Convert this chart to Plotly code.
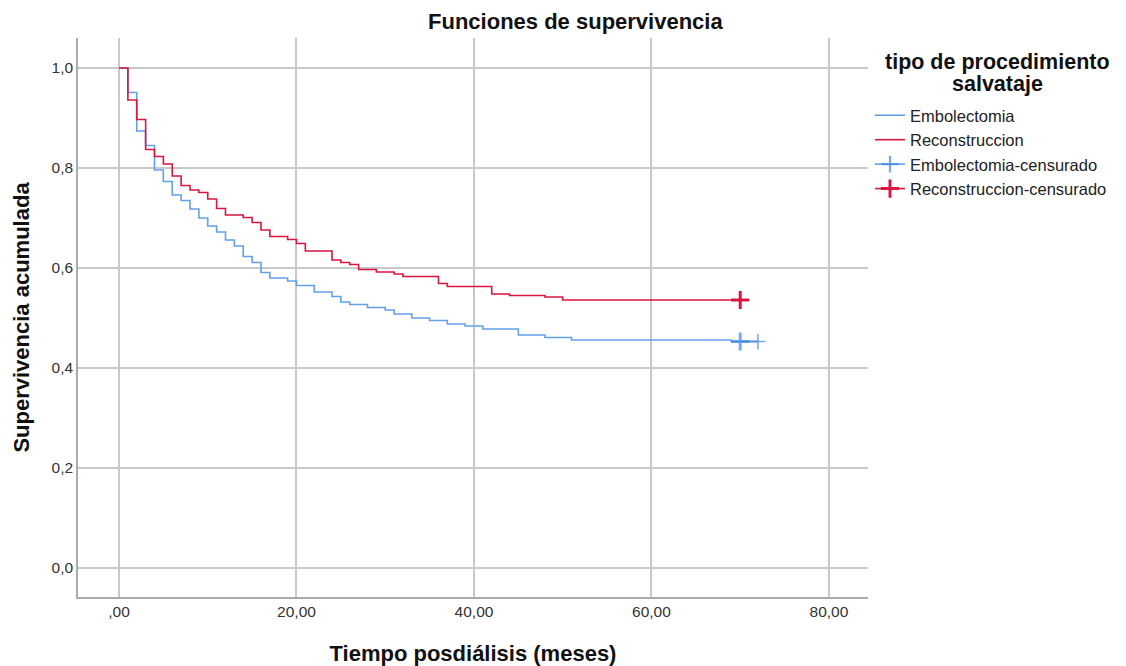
import plotly.graph_objects as go

# Embolectomia (Kaplan-Meier steps)
emb_t = [0, 1, 2, 3, 4, 5, 6, 7, 8, 9, 10, 11, 12, 13, 14, 15, 16, 17, 19, 20,
         22, 24, 25, 26, 28, 30, 31, 33, 35, 37, 39, 41, 45, 48, 51, 69, 72]
emb_s = [1.0, 0.951, 0.874, 0.845, 0.796, 0.773, 0.746, 0.735, 0.718, 0.700,
         0.684, 0.672, 0.656, 0.644, 0.623, 0.611, 0.591, 0.580, 0.574, 0.565,
         0.552, 0.543, 0.532, 0.527, 0.521, 0.516, 0.508, 0.500, 0.495, 0.488,
         0.484, 0.478, 0.466, 0.461, 0.456, 0.453, 0.453]
emb_cens_t = [70, 72]
emb_cens_s = [0.453, 0.453]

# Reconstruccion
rec_t = [0, 1, 2, 3, 4, 5, 6, 7, 8, 9, 10, 11, 12, 14, 15, 16, 17, 19, 20, 21,
         24, 25, 26, 27, 29, 31, 32, 36, 37, 42, 44, 48, 50, 70]
rec_s = [1.0, 0.936, 0.897, 0.837, 0.823, 0.808, 0.784, 0.765, 0.756, 0.751,
         0.738, 0.719, 0.706, 0.701, 0.691, 0.676, 0.663, 0.657, 0.649, 0.634,
         0.616, 0.611, 0.607, 0.597, 0.592, 0.588, 0.583, 0.569, 0.563, 0.548,
         0.545, 0.542, 0.536, 0.536]
rec_cens_t = [70]
rec_cens_s = [0.536]

x_ticks = [0, 20, 40, 60, 80]
x_labels = [",00", "20,00", "40,00", "60,00", "80,00"]
y_ticks = [0, 0.2, 0.4, 0.6, 0.8, 1.0]
y_labels = ["0,0", "0,2", "0,4", "0,6", "0,8", "1,0"]

BLUE = "#64a0e8"
BLUE_D = "#3f86e0"
RED = "#d9163f"
FONT = "Liberation Sans, Arial, sans-serif"

fig = go.Figure()
fig.add_trace(go.Scatter(x=emb_t, y=emb_s, mode="lines", line_shape="hv",
                         line=dict(color=BLUE, width=1.6), name="Embolectomia"))
fig.add_trace(go.Scatter(x=rec_t, y=rec_s, mode="lines", line_shape="hv",
                         line=dict(color=RED, width=1.6), name="Reconstruccion"))
fig.add_trace(go.Scatter(x=emb_cens_t, y=emb_cens_s, mode="lines+markers",
                         line=dict(color=BLUE, width=1.6),
                         marker=dict(symbol="cross-thin", size=[13, 11], color=BLUE_D,
                                     line=dict(color=BLUE_D, width=[3, 1.5])),
                         name="Embolectomia-censurado"))
fig.add_trace(go.Scatter(x=rec_cens_t, y=rec_cens_s, mode="lines+markers",
                         line=dict(color=RED, width=1.6),
                         marker=dict(symbol="cross-thin", size=13, color=RED,
                                     line=dict(color=RED, width=3)),
                         name="Reconstruccion-censurado"))

fig.update_layout(
    width=1126, height=666,
    margin=dict(l=78, r=258, t=38, b=69, autoexpand=False),
    paper_bgcolor="white", plot_bgcolor="white",
    font=dict(family=FONT, size=15, color="#333333"),
    title=dict(text="<b>Funciones de supervivencia</b>", x=0.511, xanchor="center",
               y=1 - 21 / 666, yanchor="middle", font=dict(size=22, color="#111111")),
    legend=dict(xref="container", yref="container", x=870 / 1126, xanchor="left",
                y=1 - 98 / 666, yanchor="top",
                font=dict(size=16.5, color="#222222"), tracegroupgap=0,
                itemwidth=30, bgcolor="rgba(0,0,0,0)"),
    showlegend=True,
    annotations=[
        dict(text="<b>tipo de procedimiento</b>", xref="paper", yref="paper",
             x=(997 - 78) / 790, y=(597 - 62) / 559, xanchor="center", yanchor="middle",
             showarrow=False, font=dict(size=21.5, color="#111111", family=FONT)),
        dict(text="<b>salvataje</b>", xref="paper", yref="paper",
             x=(997 - 78) / 790, y=(597 - 84) / 559, xanchor="center", yanchor="middle",
             showarrow=False, font=dict(size=21.5, color="#111111", family=FONT)),
    ],
)
fig.update_xaxes(range=[-4.62, 84.4], tickvals=x_ticks, ticktext=x_labels,
                 showgrid=True, gridcolor="#c9c9c9", gridwidth=1.5,
                 showline=True, linecolor="#aaaaaa", linewidth=1.5,
                 zeroline=False, ticks="", tickfont=dict(size=15.5, color="#333333"),
                 automargin=False,
                 title=dict(text="<b>Tiempo posdiálisis (meses)</b>", standoff=30,
                            font=dict(size=22, color="#111111")))
fig.update_yaxes(range=[-0.058, 1.06], tickvals=y_ticks, ticktext=y_labels,
                 showgrid=True, gridcolor="#c9c9c9", gridwidth=1.5,
                 showline=True, linecolor="#aaaaaa", linewidth=1.5,
                 zeroline=False, ticks="", tickfont=dict(size=15.5, color="#333333"),
                 automargin=False,
                 title=dict(text="<b>Supervivencia acumulada</b>", standoff=16,
                            font=dict(size=22, color="#111111")))

fig.write_html("out.html")
